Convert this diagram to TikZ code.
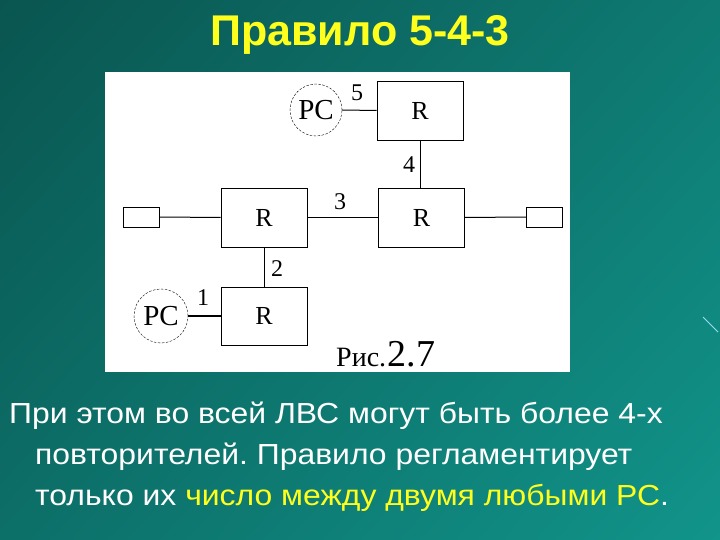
\documentclass[tikz,border=0pt]{standalone}
\usepackage{fontspec}
\setmainfont{Liberation Sans}
\newfontfamily\schemefont{Liberation Serif}
\usetikzlibrary{positioning, shadings}
\frenchspacing

\definecolor{fonUL}{HTML}{0A5550}
\definecolor{fonUR}{HTML}{0E7A72}
\definecolor{fonLL}{HTML}{0C6F68}
\definecolor{fonLR}{HTML}{11948A}
\definecolor{titul}{HTML}{FFFF1E}

\tikzset{
  repeater/.style={draw, thick, minimum width=86pt, minimum height=59pt,
    inner sep=0pt, font=\schemefont\fontsize{26}{26}\selectfont},
  pc/.style={draw, circle, dash pattern=on 2.5pt off 1.5pt, minimum size=52pt,
    inner sep=0pt, font=\schemefont\fontsize{29}{29}\selectfont},
  term/.style={draw, thick, minimum width=36pt, minimum height=20pt, inner sep=0pt},
  segnum/.style={inner sep=0pt, font=\schemefont\fontsize{24}{24}\selectfont},
  link/.style={draw, line width=1pt},
  slidetext/.style={white, anchor=base west, inner sep=0pt,
    font=\fontsize{29}{36}\selectfont},
}

\begin{document}
\begin{tikzpicture}[x=1pt, y=-1pt]
  \useasboundingbox (0,0) rectangle (720,540);

  % Фон слайда
  \shade[upper left=fonUL, upper right=fonUR, lower left=fonLL, lower right=fonLR]
       (0,0) rectangle (720,540);
  \draw[cyan!40, line width=1pt] (703,317) -- (718,332);

  % Заголовок
  \node[titul, font=\bfseries\fontsize{43}{43}\selectfont] (titul) at (360,35)
       {Правило 5-4-3};

  % Поле рисунка
  \fill[white] (105,72) rectangle (570,372);

  % Повторители
  \node[repeater] (rT) at (420,110.5) {R};
  \node[repeater] (rL) at (264,217.5) {R};
  \node[repeater] (rR) at (421.5,217.5) {R};
  \node[repeater, minimum height=58pt] (rB) at (264,316) {R};

  % Компьютеры
  \node[pc] (pcT) at (316,110) {PC};
  \node[pc, minimum size=54pt] (pcB) at (161,316) {PC};

  % Терминаторы
  \node[term] (termL) at (141,217) {};
  \node[term] (termR) at (544.5,217) {};

  % Сегменты
  \draw[link, line width=1.7pt] (pcB.east) -- (rB.west);
  \draw[link] (rL.south) -- (rB.north);
  \draw[link] (rL.east) -- (rR.west);
  \draw[link] (rT.south) -- (rT.south |- rR.north);
  \draw[link] (pcT.east) -- (rT.west);
  \draw[link] (termL.east) -- (rL.west);
  \draw[link] (rR.east) -- (termR.west);

  % Номера сегментов
  \node[segnum] (n1) at (203,298) {1};
  \node[segnum] (n2) at (277,269) {2};
  \node[segnum] (n3) at (340,202) {3};
  \node[segnum] (n4) at (409,165) {4};
  \node[segnum] (n5) at (357,93) {5};

  % Подпись рисунка
  \node[inner sep=0pt, anchor=base west, font=\schemefont\fontsize{28}{28}\selectfont]
       (ris) at (336,366) {Рис.};
  \node[inner sep=0pt, anchor=base west, font=\schemefont\fontsize{38}{38}\selectfont]
       (risnum) at ([xshift=1pt]ris.base east) {2.7};

  % Текст слайда
  \node[slidetext] (str1) at (9,423)
       {\scalebox{1.1}[1]{При этом во всей ЛВС могут быть более 4-х}};
  \node[slidetext] (str2) at (35,464)
       {\scalebox{1.1}[1]{повторителей. Правило регламентирует}};
  \node[slidetext] (str3) at (35,505)
       {\scalebox{1.1}[1]{только их \textcolor{titul}{число между двумя любыми РС}.}};
\end{tikzpicture}
\end{document}
